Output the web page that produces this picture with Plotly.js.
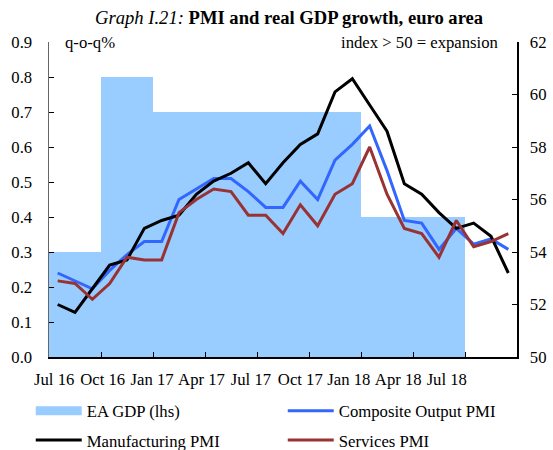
<!DOCTYPE html>
<html>
<head>
<meta charset="utf-8">
<script src="https://cdn.plot.ly/plotly-3.0.1.min.js"></script>
<style>
  html, body { margin: 0; padding: 0; background: #fff; }
  #chart { width: 553px; height: 450px; }
</style>
</head>
<body>
<div id="chart"></div>
<script>
// ---- Data ----
const months = ['Jul 16','Aug 16','Sep 16','Oct 16','Nov 16','Dec 16',
                'Jan 17','Feb 17','Mar 17','Apr 17','May 17','Jun 17',
                'Jul 17','Aug 17','Sep 17','Oct 17','Nov 17','Dec 17',
                'Jan 18','Feb 18','Mar 18','Apr 18','May 18','Jun 18',
                'Jul 18','Aug 18','Sep 18'];
const compositePMI = [53.2, 52.9, 52.6, 53.3, 53.9, 54.4,
                      54.4, 56.0, 56.4, 56.8, 56.8, 56.3,
                      55.7, 55.7, 56.7, 56.0, 57.5, 58.1,
                      58.8, 57.1, 55.2, 55.1, 54.1, 54.9,
                      54.3, 54.5, 54.1];
const manufacturingPMI = [52.0, 51.7, 52.6, 53.5, 53.7, 54.9,
                          55.2, 55.4, 56.2, 56.7, 57.0, 57.4,
                          56.6, 57.4, 58.1, 58.5, 60.1, 60.6,
                          59.6, 58.6, 56.6, 56.2, 55.5, 54.9,
                          55.1, 54.6, 53.2];
const servicesPMI = [52.9, 52.8, 52.2, 52.8, 53.8, 53.7,
                     53.7, 55.5, 56.0, 56.4, 56.3, 55.4,
                     55.4, 54.7, 55.8, 55.0, 56.2, 56.6,
                     58.0, 56.2, 54.9, 54.7, 53.8, 55.2,
                     54.2, 54.4, 54.7];
const quarters = ['Q3 16','Q4 16','Q1 17','Q2 17','Q3 17','Q4 17','Q1 18','Q2 18'];
const gdpGrowth = [0.3, 0.8, 0.7, 0.7, 0.7, 0.7, 0.4, 0.4];
const tickLabels = ['Jul 16','Oct 16','Jan 17','Apr 17','Jul 17','Oct 17','Jan 18','Apr 18','Jul 18'];

// ---- Positions on a month-index axis (layout only) ----
const monthX = months.map((_, i) => i + 0.5);          // mid-month
const quarterX = quarters.map((_, i) => i * 3 + 1.5);   // mid-quarter
const quarterTicks = [3, 6, 9, 12, 15, 18, 21, 24];
const labelPos = [0.3, 3.1, 5.95, 8.8, 11.65, 14.5, 17.3, 20.15, 22.95];

const FONT = 'Liberation Serif, Times New Roman, serif';
const FS = 16.7;
const GDP_COLOR = '#99CCFF';

const traces = [
  {
    type: 'bar', x: quarterX, y: gdpGrowth, width: 3,
    marker: { color: GDP_COLOR, line: { width: 0 } },
    name: 'EA GDP (lhs)', showlegend: false, xaxis: 'x', yaxis: 'y',
    hoverinfo: 'skip'
  },
  {
    type: 'scatter', mode: 'lines', x: [null], y: [null],
    name: 'EA GDP (lhs)', line: { color: GDP_COLOR, width: 9 },
    legend: 'legend', xaxis: 'x', yaxis: 'y'
  },
  {
    type: 'scatter', mode: 'lines', x: monthX, y: compositePMI,
    name: 'Composite Output PMI', line: { color: '#3366FF', width: 3 },
    legend: 'legend', xaxis: 'x', yaxis: 'y2'
  },
  {
    type: 'scatter', mode: 'lines', x: monthX, y: manufacturingPMI,
    name: 'Manufacturing PMI', line: { color: '#000000', width: 3 },
    legend: 'legend2', xaxis: 'x', yaxis: 'y2'
  },
  {
    type: 'scatter', mode: 'lines', x: monthX, y: servicesPMI,
    name: 'Services PMI', line: { color: '#993333', width: 3 },
    legend: 'legend2', xaxis: 'x', yaxis: 'y2'
  },
  // invisible anchor so the label-only axis is drawn
  {
    type: 'scatter', mode: 'markers', x: [0], y: [0],
    marker: { opacity: 0 }, showlegend: false, hoverinfo: 'skip',
    xaxis: 'x2', yaxis: 'y'
  }
];

const legendCommon = {
  orientation: 'h', xanchor: 'left', yanchor: 'middle',
  bgcolor: 'rgba(0,0,0,0)', borderwidth: 0,
  font: { family: FONT, size: FS, color: '#000' },
  itemwidth: 46, entrywidth: 191, entrywidthmode: 'pixels',
  itemclick: false, itemdoubleclick: false
};

const layout = {
  width: 553, height: 450,
  margin: { l: 49, r: 36, t: 42, b: 93, pad: 0, autoexpand: false },
  paper_bgcolor: '#fff', plot_bgcolor: 'rgba(0,0,0,0)',
  font: { family: FONT, size: FS, color: '#000' },
  bargap: 0,
  showlegend: true,
  title: {
    text: '<i>Graph I.21:</i> <b>PMI and real GDP growth, euro area</b>',
    x: 0.513, xref: 'paper', xanchor: 'center',
    y: 0.962, yref: 'container', yanchor: 'middle',
    font: { family: FONT, size: 18.6, color: '#000' }
  },
  xaxis: {
    range: [0, 27], tickvals: quarterTicks, ticks: 'inside', ticklen: 5,
    tickcolor: '#000', tickwidth: 1, showticklabels: false,
    showline: true, linecolor: '#000', linewidth: 1.5,
    showgrid: false, zeroline: false, fixedrange: true
  },
  xaxis2: {
    overlaying: 'x', anchor: 'y', side: 'bottom', range: [0, 27],
    tickvals: labelPos, ticktext: tickLabels, ticks: '',
    showline: false, showgrid: false, zeroline: false, fixedrange: true,
    ticklabelstandoff: 10,
    tickfont: { family: FONT, size: FS, color: '#000' }
  },
  yaxis: {
    range: [0, 0.9], dtick: 0.1, tick0: 0, tickformat: '.1f',
    ticks: 'inside', ticklen: 5, tickcolor: '#000',
    showline: true, linecolor: '#666', linewidth: 1.5,
    showgrid: false, zeroline: false, fixedrange: true,
    ticklabelstandoff: 12,
    tickfont: { family: FONT, size: FS, color: '#000' }
  },
  yaxis2: {
    overlaying: 'y', side: 'right', anchor: 'x',
    range: [50, 62], dtick: 2, tick0: 50,
    ticks: 'inside', ticklen: 5, tickcolor: '#000',
    showline: true, linecolor: '#000', linewidth: 1.5,
    showgrid: false, zeroline: false, fixedrange: true,
    ticklabelstandoff: 8,
    tickfont: { family: FONT, size: FS, color: '#000' }
  },
  legend: Object.assign({}, legendCommon, { x: -0.039, y: -0.171 }),
  legend2: Object.assign({}, legendCommon, { x: -0.039, y: -0.264 }),
  annotations: [
    { text: 'q-o-q%', xref: 'paper', yref: 'paper', x: (63 - 49) / 468, y: 1.0,
      xanchor: 'left', yanchor: 'middle', showarrow: false,
      font: { family: FONT, size: FS, color: '#000' } },
    { text: 'index > 50 = expansion', xref: 'paper', yref: 'paper', x: (501 - 49) / 468, y: 1.0,
      xanchor: 'right', yanchor: 'middle', showarrow: false,
      font: { family: FONT, size: FS, color: '#000' } }
  ]
};

Plotly.newPlot('chart', traces, layout, { displayModeBar: false, staticPlot: true });
</script>
</body>
</html>
